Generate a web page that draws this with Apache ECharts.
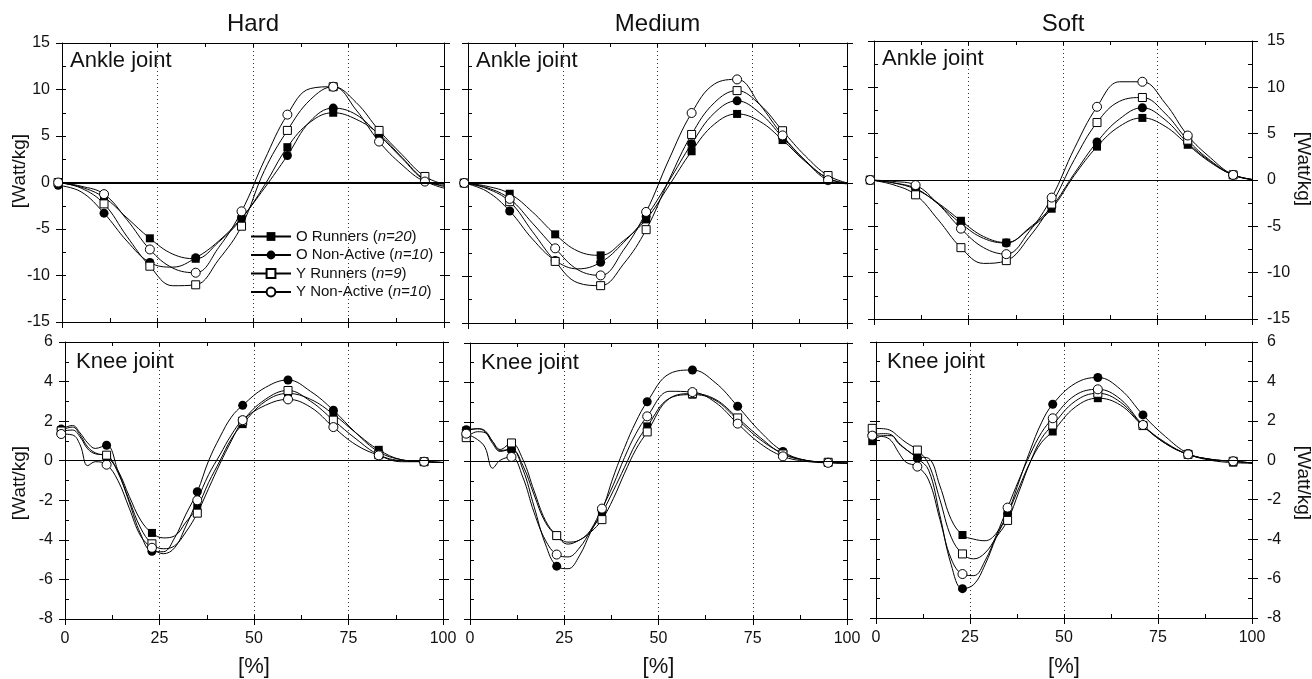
<!DOCTYPE html>
<html>
<head>
<meta charset="utf-8">
<script src="https://cdn.jsdelivr.net/npm/echarts@6/dist/echarts.min.js"></script>
<style>
  html, body { margin: 0; padding: 0; background: #fff; }
  #chart { width: 1312px; height: 679px; }
</style>
</head>
<body>
<div id="chart"></div>
<script>
// ---- labels ----
const surfaces = ['Hard', 'Medium', 'Soft'];
const joints = ['Ankle joint', 'Knee joint'];
const groupNames = ['O Runners', 'O Non-Active', 'Y Runners', 'Y Non-Active'];
const groupSizes = ['n=20', 'n=10', 'n=9', 'n=10'];
const axisUnit = '[Watt/kg]';
const xUnit = '[%]';

// ---- axis ranges: [min, max, step] ----
const xRange = [0, 100, 25];
const ankleRange = [-15, 15, 5];
const kneeRange = [-8, 6, 2];

// ---- sample positions (% of stance) ----
const markerX = [-1, 11, 23, 35, 47, 59, 71, 83, 95];
const ankleX = [-1, 5, 11, 17, 23, 29, 35, 41, 47, 53, 59, 65, 71, 77, 83, 89, 95, 101];
const kneeX = [-1, 2, 4, 6, 8, 11, 14, 17, 20, 23, 26, 29, 32, 35, 38, 41, 44, 47, 53, 59, 65, 71, 77, 83, 89, 95, 101];

// ---- ankle joint power [W/kg] ----
const ankleHardOR  = [0.0, -0.5, -1.6, -3.8, -6.0, -7.7, -8.2, -6.4, -3.9, -0.3, 3.8, 6.5, 7.5, 6.8, 5.2, 2.7, 0.3, -0.5];
const ankleHardONA = [-0.3, -1.0, -3.3, -6.3, -8.6, -9.1, -8.1, -6.3, -3.8, -0.6, 2.9, 6.6, 8.0, 7.3, 5.1, 2.6, 0.2, -0.7];
const ankleHardYR  = [0.0, -0.6, -2.3, -5.8, -9.0, -11.1, -11.0, -8.3, -4.7, 1.3, 5.6, 8.9, 10.3, 8.6, 5.6, 3.0, 0.65, -0.3];
const ankleHardYNA = [0.0, -0.4, -1.25, -4.0, -7.2, -9.2, -9.7, -7.0, -3.1, 2.4, 7.3, 10.1, 10.3, 7.8, 4.4, 1.9, 0.1, -0.3];

const ankleMediumOR  = [0.0, -0.35, -1.15, -3.1, -5.5, -7.3, -7.75, -6.2, -3.9, -0.3, 3.4, 6.3, 7.4, 6.6, 4.6, 2.3, 0.5, -0.1];
const ankleMediumONA = [0.0, -0.9, -3.0, -6.0, -8.3, -9.2, -8.5, -6.4, -3.6, 0.2, 4.2, 7.5, 8.8, 7.5, 4.9, 2.4, 0.5, -0.1];
const ankleMediumYR  = [0.0, -0.6, -2.0, -5.2, -8.4, -10.7, -11.0, -8.7, -5.0, 0.3, 5.2, 8.6, 9.9, 8.4, 5.6, 2.9, 0.8, -0.1];
const ankleMediumYNA = [0.0, -0.5, -1.7, -4.3, -7.0, -9.3, -9.9, -7.2, -3.1, 2.5, 7.5, 10.6, 11.1, 8.4, 5.1, 2.4, 0.3, -0.1];

const ankleSoftOR  = [0.0, -0.3, -1.0, -2.5, -4.4, -6.1, -6.75, -5.3, -3.1, 0.5, 3.6, 5.8, 6.7, 5.8, 3.8, 1.9, 0.55, 0.0];
const ankleSoftONA = [0.0, -0.3, -0.9, -2.6, -4.7, -6.3, -6.8, -5.2, -2.9, 0.7, 4.1, 6.6, 7.8, 6.5, 4.0, 2.0, 0.55, 0.0];
const ankleSoftYR  = [0.0, -0.5, -1.6, -4.3, -7.3, -9.0, -8.7, -6.2, -2.6, 2.2, 6.2, 8.5, 8.9, 7.2, 4.3, 2.1, 0.55, 0.0];
const ankleSoftYNA = [0.0, -0.15, -0.55, -2.6, -5.25, -7.3, -8.0, -5.6, -1.9, 3.4, 7.9, 10.6, 10.6, 8.3, 4.8, 2.4, 0.55, 0.0];

// ---- knee joint power [W/kg] ----
const kneeHardOR  = [1.55, 1.7, 1.3, 0.7, 0.4, 0.2, -0.5, -1.8, -3.0, -3.65, -3.9, -3.8, -3.1, -2.35, -1.1, 0.0, 1.1, 1.85, 3.0, 3.4, 3.1, 2.35, 1.4, 0.55, 0.05, -0.05, -0.1];
const kneeHardONA = [1.6, 1.78, 1.4, 0.9, 0.62, 0.78, -0.5, -2.1, -3.7, -4.58, -4.6, -3.9, -2.7, -1.57, 0.0, 1.2, 2.2, 2.8, 3.7, 4.08, 3.5, 2.55, 1.4, 0.45, 0.05, -0.05, -0.1];
const kneeHardYR  = [1.5, 1.55, 1.2, 0.6, 0.35, 0.28, -0.6, -2.0, -3.4, -4.2, -4.45, -4.3, -3.6, -2.65, -1.4, -0.15, 1.0, 2.0, 3.1, 3.55, 3.0, 2.05, 1.1, 0.3, 0.0, -0.05, -0.1];
const kneeHardYNA = [1.35, 1.3, 0.8, -0.25, -0.05, -0.2, -1.0, -2.4, -3.8, -4.4, -4.7, -4.4, -3.3, -2.0, -0.7, 0.3, 1.3, 2.05, 2.8, 3.1, 2.7, 1.7, 0.8, 0.27, -0.05, -0.05, -0.1];

const kneeMediumOR  = [1.55, 1.65, 1.5, 0.9, 0.5, 0.62, -0.2, -1.7, -3.1, -3.77, -4.1, -4.0, -3.5, -2.62, -1.5, -0.3, 0.9, 1.77, 3.2, 3.38, 3.1, 2.1, 1.1, 0.4, 0.05, -0.05, -0.1];
const kneeMediumONA = [1.6, 1.65, 1.55, 1.0, 0.55, 0.6, -0.4, -2.3, -4.2, -5.32, -5.45, -4.8, -3.6, -2.5, -0.8, 0.7, 2.0, 3.02, 4.45, 4.63, 4.0, 2.79, 1.5, 0.5, 0.05, -0.05, -0.1];
const kneeMediumYR  = [1.2, 1.5, 1.45, 1.0, 0.6, 0.93, 0.1, -1.5, -3.0, -3.77, -4.2, -4.0, -3.6, -2.96, -1.9, -0.6, 0.6, 1.49, 3.2, 3.43, 3.15, 2.2, 1.2, 0.37, 0.05, -0.05, -0.1];
const kneeMediumYNA = [1.4, 1.1, 0.7, -0.35, 0.05, 0.22, -0.8, -2.6, -4.0, -4.73, -4.85, -4.4, -3.5, -2.4, -1.2, 0.2, 1.4, 2.28, 3.55, 3.51, 3.0, 1.91, 0.9, 0.25, 0.0, -0.08, -0.1];

const kneeSoftOR  = [0.97, 1.25, 1.25, 0.85, 0.55, 0.19, 0.1, -1.3, -3.0, -3.79, -4.0, -4.08, -3.7, -2.7, -1.4, -0.1, 0.9, 1.46, 2.7, 3.15, 2.8, 1.74, 0.85, 0.3, 0.0, -0.12, -0.15];
const kneeSoftONA = [1.3, 1.35, 1.3, 0.9, 0.55, 0.1, -0.5, -2.8, -5.3, -6.51, -6.3, -5.3, -3.9, -2.72, -1.1, 0.5, 1.9, 2.84, 3.9, 4.2, 3.6, 2.3, 1.2, 0.35, 0.05, -0.05, -0.15];
const kneeSoftYR  = [1.62, 1.6, 1.5, 1.2, 0.9, 0.52, -0.2, -2.0, -3.9, -4.75, -5.0, -4.7, -3.9, -3.05, -1.6, -0.1, 1.1, 1.79, 3.0, 3.4, 2.95, 1.76, 0.85, 0.3, 0.05, -0.05, -0.15];
const kneeSoftYNA = [1.25, 1.2, 1.0, 0.4, -0.1, -0.32, -1.0, -3.0, -5.0, -5.77, -5.85, -5.1, -3.8, -2.4, -1.0, 0.3, 1.4, 2.13, 3.3, 3.6, 3.1, 1.79, 0.9, 0.3, 0.05, -0.05, -0.15];

// ---- assembly ----
const jointX = [ankleX, kneeX];
const jointRange = [ankleRange, kneeRange];
const jointData = [
  [
    [ankleHardOR, ankleHardONA, ankleHardYR, ankleHardYNA],
    [ankleMediumOR, ankleMediumONA, ankleMediumYR, ankleMediumYNA],
    [ankleSoftOR, ankleSoftONA, ankleSoftYR, ankleSoftYNA]
  ],
  [
    [kneeHardOR, kneeHardONA, kneeHardYR, kneeHardYNA],
    [kneeMediumOR, kneeMediumONA, kneeMediumYR, kneeMediumYNA],
    [kneeSoftOR, kneeSoftONA, kneeSoftYR, kneeSoftYNA]
  ]
];

const FONT = '"Liberation Sans", Arial, Helvetica, sans-serif';
const INK = '#111';
const groupSymbols = ['rect', 'circle', 'rect', 'circle'];
const groupFilled = [true, true, false, false];

// panel rectangles [left, top, width, height], row-major
const panelRects = [
  [62, 43, 382, 279], [468, 43, 379, 280], [874, 41, 378, 278],
  [65, 342, 378, 277], [470, 343, 377, 276], [876, 342, 376, 276]
];

const grids = [], xAxes = [], yAxes = [], series = [], graphics = [];

const tickLine = { color: '#000', width: 1 };

for (let r = 0; r < 2; r++) {
  for (let c = 0; c < 3; c++) {
    const g = r * 3 + c;
    const [left, top, width, height] = panelRects[g];
    const [ymin, ymax, ystep] = jointRange[r];
    grids.push({ left, top, width, height, containLabel: false, outerBoundsMode: 'none' });

    // bottom axis: outward major ticks, labels, dotted guides
    xAxes.push({
      gridIndex: g, type: 'value', position: 'bottom',
      min: xRange[0], max: xRange[1], interval: xRange[2],
      axisLine: { show: true, onZero: false, lineStyle: tickLine },
      axisTick: { show: true, inside: false, length: 6, lineStyle: tickLine },
      axisLabel: { show: r === 1, margin: 12, fontSize: 16, fontFamily: FONT, color: INK },
      splitLine: { show: true, lineStyle: { color: '#333', width: 1, type: [1, 3] } }
    });
    // bottom axis: inner half-step ticks
    xAxes.push({
      gridIndex: g, type: 'value', position: 'bottom',
      min: xRange[0], max: xRange[1], interval: xRange[2] / 2,
      axisLine: { show: false, onZero: false },
      axisTick: { show: true, inside: true, length: 4, lineStyle: tickLine },
      axisLabel: { show: false }, splitLine: { show: false }
    });
    // top frame with inner half-step ticks
    xAxes.push({
      gridIndex: g, type: 'value', position: 'top',
      min: xRange[0], max: xRange[1], interval: xRange[2] / 2,
      axisLine: { show: true, onZero: false, lineStyle: tickLine },
      axisTick: { show: true, inside: true, length: 4, lineStyle: tickLine },
      axisLabel: { show: false }, splitLine: { show: false }
    });

    const yBase = { gridIndex: g, type: 'value', min: ymin, max: ymax, splitLine: { show: false } };
    // left frame
    yAxes.push(Object.assign({}, yBase, {
      position: 'left', interval: ystep,
      axisLine: { show: true, onZero: false, lineStyle: tickLine },
      axisTick: { show: true, inside: false, length: 6, lineStyle: tickLine },
      axisLabel: { show: c === 0, margin: 12, fontSize: 16, fontFamily: FONT, color: INK }
    }));
    yAxes.push(Object.assign({}, yBase, {
      position: 'left', interval: ystep / 2,
      axisLine: { show: false, onZero: false },
      axisTick: { show: true, inside: true, length: 4, lineStyle: tickLine },
      axisLabel: { show: false }
    }));
    // right frame
    yAxes.push(Object.assign({}, yBase, {
      position: 'right', interval: ystep,
      axisLine: { show: true, onZero: false, lineStyle: tickLine },
      axisTick: { show: true, inside: false, length: 6, lineStyle: tickLine },
      axisLabel: { show: c === 2, margin: 15, fontSize: 16, fontFamily: FONT, color: INK }
    }));
    yAxes.push(Object.assign({}, yBase, {
      position: 'right', interval: ystep / 2,
      axisLine: { show: false, onZero: false },
      axisTick: { show: true, inside: true, length: 4, lineStyle: tickLine },
      axisLabel: { show: false }
    }));

    // four groups per panel
    for (let k = 0; k < 4; k++) {
      const xs = jointX[r];
      const ys = jointData[r][c][k];
      const sym = groupSymbols[k];
      const s = {
        type: 'line',
        name: groupNames[k],
        xAxisIndex: g * 3,
        yAxisIndex: g * 4,
        data: xs.map((x, i) => ({
          value: [x, ys[i]],
          symbol: markerX.includes(x) ? sym : 'none'
        })),
        symbol: sym,
        symbolSize: sym === 'rect' ? 8 : 9,
        showAllSymbol: true,
        smooth: 0.4,
        clip: false,
        lineStyle: { color: '#000', width: 1 },
        itemStyle: groupFilled[k]
          ? { color: '#000', borderColor: '#000', borderWidth: 0 }
          : { color: '#fff', borderColor: '#000', borderWidth: 1 },
        emphasis: { disabled: true },
        silent: true
      };
      if (k === 0) {
        s.markLine = {
          silent: true,
          symbol: ['none', 'none'],
          label: { show: false },
          lineStyle: { color: '#000', type: 'solid', width: (r === 0 && c < 2) ? 2 : 1 },
          data: [{ yAxis: 0 }]
        };
      }
      series.push(s);
    }

    // panel texts
    const cx = left + width / 2;
    if (r === 0) {
      graphics.push({
        type: 'text', x: cx, y: 24,
        style: { text: surfaces[c], fontSize: 24, fontFamily: FONT, fill: INK,
                 textAlign: 'center', textVerticalAlign: 'middle', align: 'center', verticalAlign: 'middle' }
      });
    }
    graphics.push({
      type: 'text', x: left + (r === 0 ? 8 : 11), y: top + (r === 0 ? 18 : 20),
      style: { text: joints[r], fontSize: 22, fontFamily: FONT, fill: INK,
               textAlign: 'left', textVerticalAlign: 'middle', align: 'left', verticalAlign: 'middle' }
    });
    if (r === 1) {
      graphics.push({
        type: 'text', x: cx, y: 667,
        style: { text: xUnit, fontSize: 22, fontFamily: FONT, fill: INK,
                 textAlign: 'center', textVerticalAlign: 'middle', align: 'center', verticalAlign: 'middle' }
      });
    }
    if (c === 0 || c === 2) {
      const midY = r === 0 ? top + 128 : top + 141;
      graphics.push({
        type: 'text',
        x: c === 0 ? 20 : 1303,
        y: midY,
        rotation: c === 0 ? Math.PI / 2 : -Math.PI / 2,
        style: { text: axisUnit, fontSize: 19, fontFamily: FONT, fill: INK,
                 textAlign: 'center', textVerticalAlign: 'middle', align: 'center', verticalAlign: 'middle' }
      });
    }
  }
}

const chart = echarts.init(document.getElementById('chart'), null, { renderer: 'canvas' });
chart.setOption({
  animation: false,
  backgroundColor: '#fff',
  grid: grids,
  xAxis: xAxes,
  yAxis: yAxes,
  legend: {
    data: groupNames,
    orient: 'vertical',
    left: 250,
    top: 229,
    itemWidth: 40,
    itemHeight: 11,
    itemGap: 3.5,
    selectedMode: false,
    padding: 0,
    textStyle: {
      fontFamily: FONT, fontSize: 15, color: INK,
      rich: { i: { fontStyle: 'italic', fontFamily: FONT, fontSize: 15, color: INK } }
    },
    formatter: name => name + ' ({i|' + groupSizes[groupNames.indexOf(name)] + '})'
  },
  graphic: graphics,
  series
});
</script>
</body>
</html>
